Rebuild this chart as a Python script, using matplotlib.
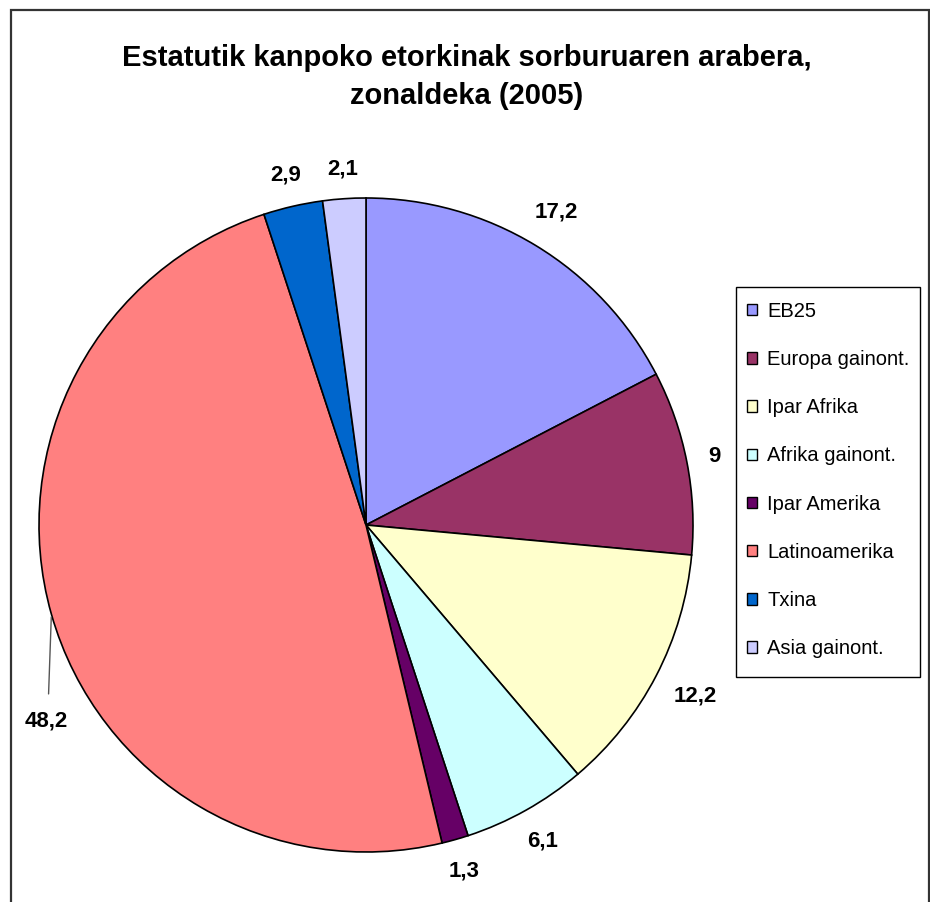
import numpy as np
import matplotlib
matplotlib.use("Agg")
import matplotlib.pyplot as plt
from matplotlib.patches import Rectangle

categories = ["EB25", "Europa gainont.", "Ipar Afrika", "Afrika gainont.",
              "Ipar Amerika", "Latinoamerika", "Txina", "Asia gainont."]
values = [17.2, 9, 12.2, 6.1, 1.3, 48.2, 2.9, 2.1]
value_labels = ["17,2", "9", "12,2", "6,1", "1,3", "48,2", "2,9", "2,1"]
colors = ["#9999FF", "#993366", "#FFFFCC", "#CCFFFF",
          "#660066", "#FF8080", "#0066CC", "#CCCCFF"]
title = "Estatutik kanpoko etorkinak sorburuaren arabera,\nzonaldeka (2005)"
leader_labels = ["Latinoamerika"]

plt.rcParams['font.family'] = ['Liberation Sans', 'DejaVu Sans']

W, H = 930, 902
fig = plt.figure(figsize=(W / 100, H / 100), dpi=100)
fig.patch.set_facecolor("white")

# outer frame
fig.patches.append(Rectangle((11 / W, -0.05), (929 - 11) / W, 1.05 - 10 / H,
                             transform=fig.transFigure, fill=False,
                             edgecolor="#333333", linewidth=1.6))

cx, cy, r = 366, 525, 327
ax = fig.add_axes([(cx - r) / W, (H - cy - r) / H, 2 * r / W, 2 * r / H])
wedges, _ = ax.pie(values, colors=colors, startangle=90, counterclock=False,
                   radius=1, center=(0, 0),
                   wedgeprops=dict(edgecolor="black", linewidth=1.2))
ax.set_xlim(-1, 1)
ax.set_ylim(-1, 1)
ax.set_aspect("equal")
ax.axis("off")

renderer = fig.canvas.get_renderer()
gap = 21.0  # px between pie edge and label box
for w, lab, cat in zip(wedges, value_labels, categories):
    mid = np.deg2rad((w.theta1 + w.theta2) / 2)
    ex, ey = np.cos(mid), np.sin(mid)
    if cat in leader_labels:
        ax.annotate(lab, xy=(ex, ey), xytext=(-4, -77), textcoords="offset points",
                    ha="center", va="center", fontsize=16, fontweight="bold",
                    arrowprops=dict(arrowstyle="-", color="#555555", lw=1.0,
                                    shrinkA=10, shrinkB=2,
                                    relpos=(0.55, 1.0)))
    else:
        t = ax.text(0, 0, lab, ha="center", va="center",
                    fontsize=16, fontweight="bold")
        bb = t.get_window_extent(renderer)
        tw, th = bb.width, 15.0
        s = tw / 2 * abs(ex) + th / 2 * abs(ey)
        d = (r + gap + s) / r
        t.set_position((d * ex, d * ey))

fig.text(0.502, 1 - 77 / H, title, ha="center", va="center",
         fontsize=21, fontweight="bold", linespacing=1.5)

# legend box (frame drawn separately to control padding)
lx0, ly0, lx1, ly1 = 736, 287, 920, 677
fig.patches.append(Rectangle((lx0 / W, 1 - ly1 / H), (lx1 - lx0) / W, (ly1 - ly0) / H,
                             transform=fig.transFigure, fill=False,
                             edgecolor="black", linewidth=1.0, zorder=5))
leg = fig.legend(wedges, categories, loc="center left",
                 bbox_to_anchor=(747 / W, 1 - 480 / H),
                 fontsize=14.5, frameon=False,
                 handlelength=0.5, handleheight=0.5, handletextpad=0.5,
                 labelspacing=1.45, borderpad=0, borderaxespad=0)
for p in leg.get_patches():
    p.set_edgecolor("black")
    p.set_linewidth(1.0)

fig.savefig("out.png", dpi=100, facecolor="white")
